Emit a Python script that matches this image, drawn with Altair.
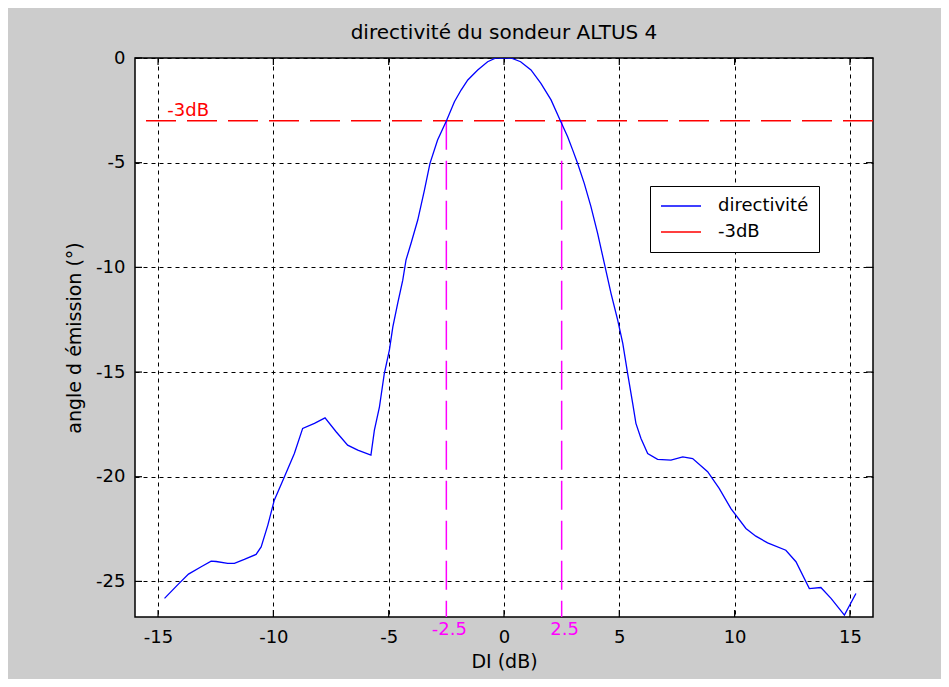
import altair as alt
import pandas as pd

# ---- data ----
di = [-14.72, -14.12, -13.68, -13.13, -12.70, -12.48, -11.98, -11.69, -11.26, -10.75,
      -10.53, -10.24, -9.96, -9.52, -9.09, -8.73, -8.22, -7.76, -7.28, -6.78,
      -6.34, -5.77, -5.62, -5.40, -5.19, -4.97, -4.82, -4.61, -4.39, -4.25,
      -4.03, -3.74, -3.45, -3.21, -2.88, -2.49, -2.15, -1.86, -1.57, -1.14,
      -0.71, -0.35, 0.30, 0.72, 1.17, 1.60, 2.04, 2.44, 2.76, 2.98,
      3.19, 3.48, 3.77, 4.06, 4.35, 4.64, 4.93, 5.15, 5.36, 5.58,
      5.72, 5.94, 6.23, 6.66, 7.24, 7.75, 8.18, 8.83, 9.33, 9.84,
      10.49, 10.92, 11.43, 12.22, 12.66, 13.24, 13.74, 14.18, 14.76, 15.26]
angle = [-25.81, -25.13, -24.65, -24.30, -24.03, -24.05, -24.14, -24.14, -23.95, -23.71,
         -23.35, -22.31, -21.12, -20.00, -18.89, -17.69, -17.45, -17.19, -17.85, -18.49,
         -18.73, -18.97, -17.77, -16.66, -15.07, -13.95, -12.84, -11.72, -10.61, -9.65,
         -8.85, -7.74, -6.31, -5.03, -3.92, -2.99, -2.09, -1.53, -1.05, -0.57,
         -0.18, 0.00, 0.00, -0.18, -0.57, -1.21, -2.00, -2.99, -3.76, -4.40,
         -5.03, -5.99, -7.10, -8.38, -9.81, -11.24, -12.52, -13.63, -15.06, -16.50,
         -17.45, -18.17, -18.89, -19.17, -19.21, -19.05, -19.13, -19.76, -20.56, -21.52,
         -22.47, -22.84, -23.16, -23.51, -24.06, -25.34, -25.29, -25.81, -26.61, -25.58]

x_ticks = [-15, -10, -5, 0, 5, 10, 15]
y_ticks = [0, -5, -10, -15, -20, -25]
x_domain = [-16, 16]
y_domain = [-26.7, 0]

threshold_db = [-3]
threshold_label = ["-3dB"]
threshold_label_x = [-14.6]
half_width = [-2.5, 2.5]
half_width_labels = ["-2.5", "2.5"]

series_names = ["directivité", "-3dB"]
series_colors = ["#0000ff", "#ff0000"]

title_text = ["directivité du sondeur ALTUS 4"]
x_title = "DI (dB)"
y_title = "angle d émission (°)"

# ---- layout / style ----
W, H = 738, 559
FONT = "DejaVu Sans"
FS = 18
TFS = 19
TICK = 7
HYPHEN_LABEL = "'' + datum.value"

xs = alt.Scale(domain=x_domain, nice=False, zero=False)
ys = alt.Scale(domain=y_domain, nice=False, zero=False)

color = alt.Color(
    "serie:N",
    scale=alt.Scale(domain=series_names, range=series_colors),
    legend=alt.Legend(
        title=None, orient="none", legendX=515, legendY=128,
        fillColor="white", strokeColor="black", padding=10,
        symbolType="stroke", symbolSize=1600, symbolStrokeWidth=1.5,
        symbolDash=[1, 0],
        labelFont=FONT, labelFontSize=FS, labelColor="black", labelOffset=16,
        clipHeight=20, rowPadding=6,
    ),
)

curve_df = pd.DataFrame({"DI": di, "angle": angle, "serie": series_names[0]})

curve = alt.Chart(curve_df).mark_line(strokeWidth=1.3, clip=True).encode(
    x=alt.X("DI:Q", scale=xs,
            axis=alt.Axis(values=x_ticks, title=x_title, labelPadding=11,
                          labelExpr=HYPHEN_LABEL,
                          titleY=44, titleBaseline="middle")),
    y=alt.Y("angle:Q", scale=ys,
            axis=alt.Axis(values=y_ticks, title=y_title, labelPadding=10,
                          labelExpr=HYPHEN_LABEL,
                          titleX=-61, titleBaseline="middle")),
    color=color,
)

thr_df = pd.DataFrame({"y": threshold_db, "serie": [series_names[1]]})
thr = alt.Chart(thr_df).mark_rule(strokeDash=[30, 11], strokeWidth=1.5).encode(
    y=alt.Y("y:Q", scale=ys),
    color=color,
)

thr_lab_df = pd.DataFrame({"x": threshold_label_x, "y": threshold_db, "t": threshold_label})
thr_lab = alt.Chart(thr_lab_df).mark_text(
    align="left", baseline="bottom", dy=-1, color="#ff0000", font=FONT, fontSize=FS
).encode(x=alt.X("x:Q", scale=xs), y=alt.Y("y:Q", scale=ys), text="t:N")

hw_df = pd.DataFrame({"x": half_width, "y": threshold_db * 2, "t": half_width_labels})
hw = alt.Chart(hw_df).mark_rule(color="#ff00ff", strokeDash=[29, 11], strokeWidth=1.5).encode(
    x=alt.X("x:Q", scale=xs), y=alt.Y("y:Q", scale=ys), y2=alt.value(H)
)
hw_lab = alt.Chart(hw_df).mark_text(
    align="center", baseline="middle", dx=3, color="#ff00ff", font=FONT, fontSize=FS
).encode(x=alt.X("x:Q", scale=xs), y=alt.value(H + 13), text="t:N")

title_df = pd.DataFrame({"t": title_text})
title = alt.Chart(title_df).mark_text(
    align="center", baseline="middle", color="black", font=FONT, fontSize=TFS + 1
).encode(x=alt.value(W / 2), y=alt.value(-25), text="t:N")

xt_df = pd.DataFrame({"t": x_ticks})
yt_df = pd.DataFrame({"t": y_ticks})
tick_style = dict(color="black", strokeWidth=1.2)
xt_bot = alt.Chart(xt_df).mark_rule(**tick_style).encode(
    x=alt.X("t:Q", scale=xs), y=alt.value(H), y2=alt.value(H - TICK))
xt_top = alt.Chart(xt_df).mark_rule(**tick_style).encode(
    x=alt.X("t:Q", scale=xs), y=alt.value(0), y2=alt.value(TICK))
yt_left = alt.Chart(yt_df).mark_rule(**tick_style).encode(
    y=alt.Y("t:Q", scale=ys), x=alt.value(0), x2=alt.value(TICK))
yt_right = alt.Chart(yt_df).mark_rule(**tick_style).encode(
    y=alt.Y("t:Q", scale=ys), x=alt.value(W), x2=alt.value(W - TICK))

chart = alt.layer(
    xt_bot, xt_top, yt_left, yt_right, thr, hw, curve, thr_lab, hw_lab, title
).properties(
    width=W, height=H,
    autosize=alt.AutoSizeParams(type="none"),
    padding={"left": 127, "top": 50, "right": 68, "bottom": 62},
).configure(
    background="#cccccc",
).configure_view(
    fill="white", stroke="black", strokeWidth=1.5,
).configure_axis(
    domain=False, ticks=False, grid=True, gridColor="black", gridOpacity=1,
    gridDash=[4, 4], gridWidth=1,
    labelFont=FONT, labelFontSize=FS, labelColor="black",
    titleFont=FONT, titleFontSize=TFS, titleColor="black", titleFontWeight="normal",
)

chart.save("out.html", embed_options={"renderer": "svg", "actions": False})
